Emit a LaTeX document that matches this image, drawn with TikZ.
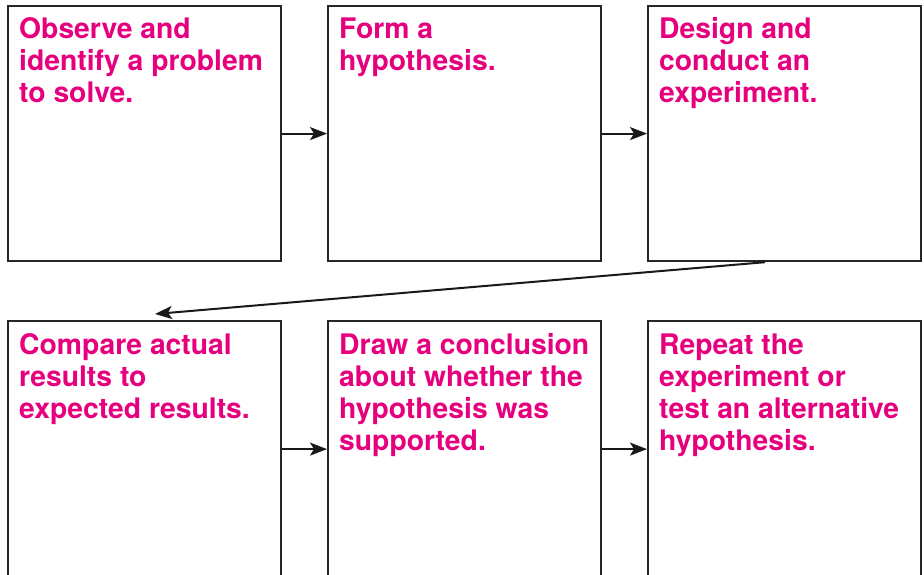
\documentclass[tikz,border=0pt]{standalone}
\usepackage{fontspec}
\setmainfont{TeX Gyre Heros}
\usetikzlibrary{arrows.meta,calc}
\definecolor{sciPink}{RGB}{230,0,126}
\begin{document}
\begin{tikzpicture}[x=1pt,y=1pt,
  box/.style={draw=black!85, line width=2.2pt, minimum width=273pt, minimum height=255pt, inner sep=0pt, anchor=north west},
  lowbox/.style={box, minimum height=256pt},
  lab/.style={anchor=north west, inner sep=0pt, align=left, text=sciPink, font=\fontsize{28.3}{32}\selectfont\bfseries},
  conn/.style={draw=black!90, line width=2pt, -{Stealth[length=17pt,width=13pt,inset=4pt]}}]
\useasboundingbox (0,0) rectangle (924,-575);
\clip (0,0) rectangle (924,-575);
\node[box] (b1) at (7,-5) {};
\node[box] (b2) at (327,-5) {};
\node[box] (b3) at (647,-5) {};
\node[lowbox] (b4) at (7,-320) {};
\node[lowbox] (b5) at (327,-320) {};
\node[lowbox] (b6) at (647,-320) {};
\node[lab] (t1) at ($(b1.north west)+(12,-12.5)$) {Observe and\\identify a problem\\to solve.};
\node[lab] (t2) at ($(b2.north west)+(12,-12.5)$) {Form a\\hypothesis.};
\node[lab] (t3) at ($(b3.north west)+(12,-12.5)$) {Design and\\conduct an\\experiment.};
\node[lab] (t4) at ($(b4.north west)+(12,-13.5)$) {Compare actual\\results to\\expected results.};
\node[lab] (t5) at ($(b5.north west)+(12,-13.5)$) {Draw a conclusion\\about whether the\\hypothesis was\\supported.};
\node[lab] (t6) at ($(b6.north west)+(12,-13.5)$) {Repeat the\\experiment or\\test an alternative\\hypothesis.};
\draw[conn] (b1.east) -- (b2.west);
\draw[conn] (b2.east) -- (b3.west);
\draw[conn] ($(b4.north east)!0.5!(b4.south east)$) -- ($(b5.north west)!0.5!(b5.south west)$);
\draw[conn] ($(b5.north east)!0.5!(b5.south east)$) -- ($(b6.north west)!0.5!(b6.south west)$);
\coordinate (s) at ($(b3.south west)+(118,0)$);
\coordinate (t) at ($(b4.north west)+(148,6)$);
\draw[conn] (s) -- (t);
\end{tikzpicture}
\end{document}
